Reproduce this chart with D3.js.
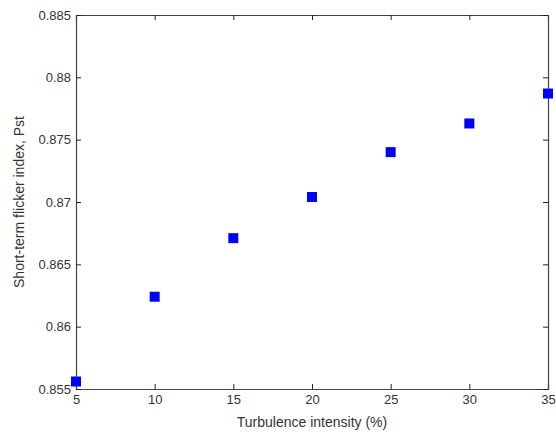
<!DOCTYPE html>
<html>
<head>
<meta charset="utf-8">
<script src="https://cdn.jsdelivr.net/npm/d3@7"></script>
<style>
  body { margin: 0; background: #fff; }
  text { font-family: "Liberation Sans", Arial, sans-serif; }
</style>
</head>
<body>
<div id="chart"></div>
<script>
// data
var turbulence = [5, 10, 15, 20, 25, 30, 35];
var pst = [0.8556, 0.8624, 0.8671, 0.8704, 0.8740, 0.8763, 0.8787];
var xTicks = [5, 10, 15, 20, 25, 30, 35];
var yTicks = [0.855, 0.86, 0.865, 0.87, 0.875, 0.88, 0.885];

var svgWidth = 556;
var svgHeight = 432;
var margin = { top: 15, right: 8, bottom: 43, left: 76 };
var width = svgWidth - margin.left - margin.right;
var height = svgHeight - margin.top - margin.bottom;

var svg = d3.select("#chart").append("svg")
  .attr("width", svgWidth)
  .attr("height", svgHeight);

var g = svg.append("g")
  .attr("transform", `translate(${margin.left}, ${margin.top})`);

var x = d3.scaleLinear().domain([5, 35]).range([0, width]);
var y = d3.scaleLinear().domain([0.855, 0.885]).range([height, 0]);

var fmt = d => String(+d.toFixed(3));

// axes, ticks pointing inward like matlab
var bottomAxis = d3.axisBottom(x).tickValues(xTicks).tickSize(-5).tickPadding(6).tickFormat(fmt);
var topAxis = d3.axisTop(x).tickValues(xTicks).tickSize(-5).tickFormat("");
var leftAxis = d3.axisLeft(y).tickValues(yTicks).tickSize(-5).tickPadding(5).tickFormat(fmt);
var rightAxis = d3.axisRight(y).tickValues(yTicks).tickSize(-5).tickFormat("");

g.append("g").attr("transform", `translate(0, ${height})`).call(bottomAxis);
g.append("g").call(topAxis);
g.append("g").call(leftAxis);
g.append("g").attr("transform", `translate(${width}, 0)`).call(rightAxis);

g.selectAll(".domain").attr("stroke", "#444").attr("stroke-width", 1.2);
g.selectAll(".tick line").attr("stroke", "#222");
g.selectAll(".tick text").attr("font-size", "13px").attr("fill", "#333");

// markers
g.selectAll("rect.pt")
  .data(turbulence)
  .enter()
  .append("rect")
  .attr("class", "pt")
  .attr("x", (d, i) => x(d) - 5)
  .attr("y", (d, i) => y(pst[i]) - 5)
  .attr("width", 10)
  .attr("height", 10)
  .attr("fill", "#0000ff");

// labels
svg.append("text")
  .attr("x", margin.left + width / 2)
  .attr("y", 427)
  .attr("text-anchor", "middle")
  .attr("font-size", "14px")
  .attr("fill", "#333")
  .text("Turbulence intensity (%)");

svg.append("text")
  .attr("transform", `translate(24, ${margin.top + height / 2}) rotate(-90)`)
  .attr("text-anchor", "middle")
  .attr("font-size", "14px")
  .attr("fill", "#333")
  .text("Short-term flicker index, Pst");
</script>
</body>
</html>
